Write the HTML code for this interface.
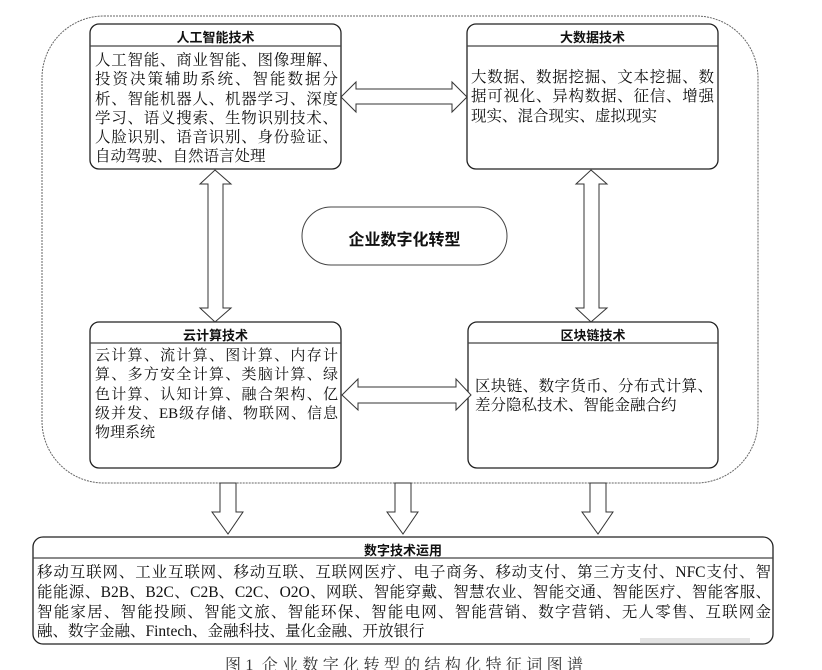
<!DOCTYPE html>
<html><head><meta charset="utf-8"><style>
body{margin:0;background:#fff;}
#c{position:relative;width:822px;height:670px;overflow:hidden;background:#fff;}
svg{position:absolute;left:0;top:0;}
.h{position:absolute;font-family:"Liberation Sans","Noto Sans CJK SC",sans-serif;font-weight:bold;font-size:13px;text-align:center;color:#111;}
.t{position:absolute;font-family:"Liberation Serif","Noto Serif CJK SC",serif;font-size:15.5px;line-height:19.3px;color:#111;}
.t div{text-align:justify;text-align-last:justify;white-space:nowrap;height:19.3px;}
.t div.l{text-align-last:left;}
</style></head><body><div id="c">
<svg width="822" height="670" viewBox="0 0 822 670">
<rect x="42" y="16" width="716" height="467" rx="62" fill="none" stroke="#666" stroke-width="1" stroke-dasharray="2,1"/>
<g fill="#fff" stroke="#222" stroke-width="1.3">
<rect x="90" y="24" width="251" height="145" rx="9"/>
<rect x="467" y="24" width="251" height="145" rx="9"/>
<rect x="90" y="322" width="251" height="146" rx="9"/>
<rect x="468" y="322" width="250" height="146" rx="9"/>
<rect x="33" y="537" width="740" height="107" rx="10"/>
</g>
<g stroke="#444" stroke-width="1.2">
<line x1="90" y1="46" x2="341" y2="46"/><line x1="467" y1="46" x2="718" y2="46"/>
<line x1="90" y1="343" x2="341" y2="343"/><line x1="468" y1="343" x2="718" y2="343"/>
<line x1="33" y1="558" x2="773" y2="558"/>
</g>
<rect x="302" y="207" width="205" height="58" rx="29" fill="#fff" stroke="#444" stroke-width="1"/>
<g fill="#fff" stroke="#333" stroke-width="1">
<polygon points="341,97 356,82 356,89 452,89 452,82 467,97 452,112 452,104 356,104 356,112"/>
<polygon points="342,395 358,379 358,387 456,387 456,379 471,395 456,410 456,403 358,403 358,410"/>
<polygon points="215,170 231,184 223,184 223,308 231,308 215,322 200,308 208,308 208,184 200,184"/>
<polygon points="591,170 607,184 599,184 599,308 607,308 591,322 576,308 584,308 584,184 576,184"/>
<polygon points="220,483 236,483 236,512 243,512 228,534 212,512 220,512"/>
<polygon points="395,483 411,483 411,512 418,512 403,534 387,512 395,512"/>
<polygon points="590,483 606,483 606,512 613,512 598,534 582,512 590,512"/>
</g>
<rect x="640" y="638" width="110" height="6" fill="#bbb" opacity="0.4"/>
</svg>
<div class="h" style="left:90px;top:27px;width:251px;">人工智能技术</div>
<div class="h" style="left:467px;top:27px;width:251px;">大数据技术</div>
<div class="h" style="left:90px;top:325px;width:251px;">云计算技术</div>
<div class="h" style="left:468px;top:325px;width:250px;">区块链技术</div>
<div class="h" style="left:33px;top:540px;width:740px;">数字技术运用</div>
<div class="h" style="left:302px;top:226px;width:205px;font-size:16px;">企业数字化转型</div>
<div class="t" style="left:95px;top:51px;width:243px;">
<div>人工智能、商业智能、图像理解、</div><div>投资决策辅助系统、智能数据分</div><div>析、智能机器人、机器学习、深度</div><div>学习、语义搜索、生物识别技术、</div><div>人脸识别、语音识别、身份验证、</div><div class="l">自动驾驶、自然语言处理</div></div>
<div class="t" style="left:471px;top:68px;width:243px;">
<div>大数据、数据挖掘、文本挖掘、数</div><div>据可视化、异构数据、征信、增强</div><div class="l">现实、混合现实、虚拟现实</div></div>
<div class="t" style="left:95px;top:347px;width:243px;font-size:15px;">
<div>云计算、流计算、图计算、内存计</div><div>算、多方安全计算、类脑计算、绿</div><div>色计算、认知计算、融合架构、亿</div><div>级并发、EB级存储、物联网、信息</div><div class="l">物理系统</div></div>
<div class="t" style="left:475px;top:377px;width:238px;">
<div>区块链、数字货币、分布式计算、</div><div class="l">差分隐私技术、智能金融合约</div></div>
<div class="t" style="left:37px;top:563px;width:734px;line-height:19.8px;">
<div style="height:19.8px">移动互联网、工业互联网、移动互联、互联网医疗、电子商务、移动支付、第三方支付、NFC支付、智</div>
<div style="height:19.8px">能能源、B2B、B2C、C2B、C2C、O2O、网联、智能穿戴、智慧农业、智能交通、智能医疗、智能客服、</div>
<div style="height:19.8px">智能家居、智能投顾、智能文旅、智能环保、智能电网、智能营销、数字营销、无人零售、互联网金</div>
<div class="l" style="height:19.8px">融、数字金融、Fintech、金融科技、量化金融、开放银行</div></div>
<div style="position:absolute;left:225px;top:652px;width:358px;font-family:'Liberation Serif','Noto Serif CJK SC',serif;font-size:16px;color:#333;text-align:justify;text-align-last:justify;white-space:nowrap;">图1 企业数字化转型的结构化特征词图谱</div>
</div></body></html>
